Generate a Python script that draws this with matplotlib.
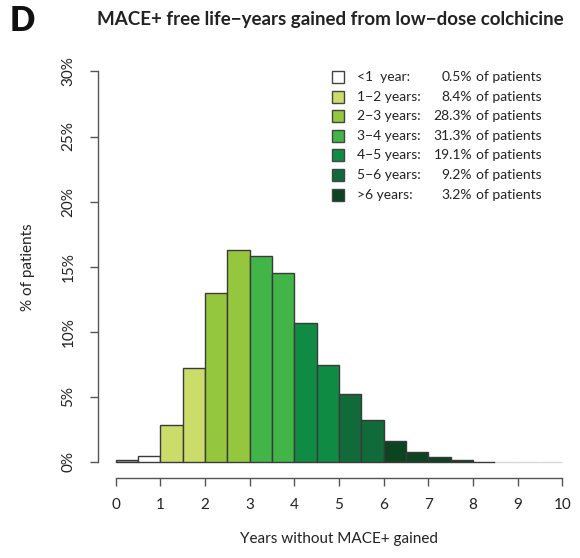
import numpy as np
import matplotlib.pyplot as plt
from matplotlib.patches import Rectangle

plt.rcParams['font.family'] = ['Lato', 'DejaVu Sans']

#:::: Data ::::
bin_edges = np.arange(0, 10.5, 0.5)
pct_patients = [0.15, 0.45, 2.85, 7.2, 13.0, 16.3, 15.85, 14.5, 10.7, 7.45,
                5.25, 3.2, 1.6, 0.77, 0.35, 0.18, 0.03, 0.0, 0.0, 0.0]

legend_labels = ["<1  year:", "1\u22122 years:", "2\u22123 years:", "3\u22124 years:",
                 "4\u22125 years:", "5\u22126 years:", ">6 years:"]
legend_pcts = ["0.5%", "8.4%", "28.3%", "31.3%", "19.1%", "9.2%", "3.2%"]

greens = ["#ffffff", "#cbdc6b", "#94c73d", "#42b549", "#0f8b44", "#116a39", "#0c4321"]

def bar_colour(left):
    # gray for the first bin, then one colour per whole year, last colour for >6
    if left < 0.5:
        return "#a0a0a0"
    if left < 1:
        return greens[0]
    return greens[min(int(left), 6)]

#:::: Figure ::::
W, H = 580, 558
fig = plt.figure(figsize=(W / 100, H / 100), dpi=100)
ax = fig.add_axes([97.8 / W, 1 - 477.6 / H, 482.4 / W, 421.8 / H])

lefts = bin_edges[:-1]
for left, h in zip(lefts, pct_patients):
    ec = "#d8d8d8" if h == 0 else "#3a3a3a"
    ax.bar(left, h, width=0.5, align='edge', color=bar_colour(left),
           edgecolor=ec, linewidth=1.0)

ax.set_xlim(-0.4, 10.4)
ax.set_ylim(-1.2, 31.2)
for s in ['top', 'right']:
    ax.spines[s].set_visible(False)
ax.spines['left'].set_bounds(0, 30)
ax.spines['bottom'].set_bounds(0, 10)
for s in ['left', 'bottom']:
    ax.spines[s].set_color("#555555")
    ax.spines[s].set_linewidth(1.0)

ax.set_xticks(range(0, 11))
ax.set_yticks(range(0, 31, 5))
ax.set_yticklabels([f"{v}%" for v in range(0, 31, 5)], rotation=90, va='center')
ax.tick_params(axis='both', length=6, width=1.0, color="#555555",
               labelsize=11, labelcolor="#222222")
ax.tick_params(axis='x', pad=9)
ax.tick_params(axis='y', pad=10)

ax.set_xlabel("Years without MACE+ gained", fontsize=11, color="#222222", labelpad=14)
fig.text(28 / W, 1 - 267 / H, "% of patients", rotation=90, ha='center', va='center',
         fontsize=11, color="#222222")

fig.text(330 / W, 1 - 20 / H, "MACE+ free life\u2212years gained from low\u2212dose colchicine",
         ha='center', va='center', fontsize=13.5, fontweight='bold', color="#222222")
fig.text(22 / W, 1 - 21 / H, "D", ha='center', va='center', fontsize=24,
         fontweight='heavy', color="#111111")

# legend drawn by hand so the percentages line up
row_y0, row_step = 77, 19.6
for i, (lab, pct) in enumerate(zip(legend_labels, legend_pcts)):
    y = 1 - (row_y0 + i * row_step) / H
    sq = 12
    fig.add_artist(Rectangle(((338.3 - sq / 2) / W, y - sq / 2 / H), sq / W, sq / H,
                             transform=fig.transFigure, facecolor=greens[i],
                             edgecolor="#444444", linewidth=1.0))
    fig.text(356.7 / W, y, lab, ha='left', va='center', fontsize=10, color="#222222")
    fig.text(472 / W, y, pct, ha='right', va='center', fontsize=10, color="#222222")
    fig.text(476 / W, y, "of patients", ha='left', va='center', fontsize=10, color="#222222")

fig.savefig("out.png", dpi=100)
